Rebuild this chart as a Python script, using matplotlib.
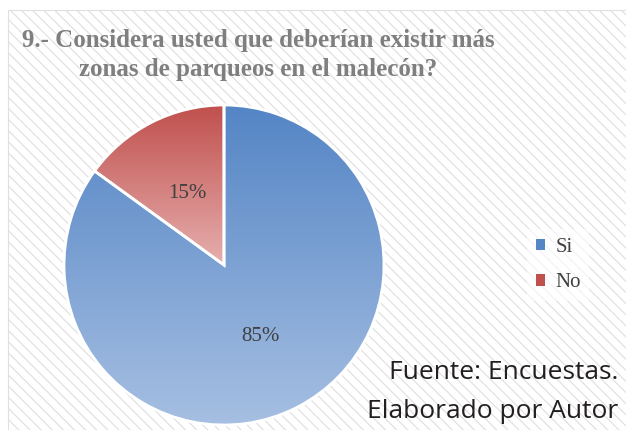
import numpy as np
import matplotlib
matplotlib.use("Agg")
import matplotlib.pyplot as plt
from matplotlib.patches import Rectangle, Patch
from matplotlib.colors import LinearSegmentedColormap

labels = ["Si", "No"]
values = [85, 15]
top_colors = ["#5485C5", "#C0504D"]
bottom_colors = ["#A6BFE2", "#E6AFAE"]

title_lines = ["9.- Considera usted que deberían existir más",
               "zonas de parqueos en el malecón?"]
source_lines = ["Fuente: Encuestas.", "Elaborado por Autor"]

W, H = 626, 430
serif = "Liberation Serif"

fig = plt.figure(figsize=(W / 100, H / 100), dpi=100)
fig.patch.set_facecolor("white")

# hatched chart area
plt.rcParams["hatch.linewidth"] = 0.85
bg = Rectangle((8 / W, 0), 1, 1 - 10 / H, transform=fig.transFigure,
               facecolor="white", edgecolor="#E0E0E0", hatch="\\\\\\",
               lw=0.8, zorder=-10)
fig.patches.append(bg)

lim = 1.05
r_px = 160
cx, cy = 224, 265
ax = fig.add_axes([(cx - r_px * lim) / W, (H - cy - r_px * lim) / H,
                   2 * r_px * lim / W, 2 * r_px * lim / H])

wedges, texts, autotexts = ax.pie(
    values, startangle=90, counterclock=False, autopct="%1.0f%%",
    pctdistance=0.5, wedgeprops=dict(edgecolor="white", linewidth=2),
    textprops=dict(family=serif, fontsize=15, color="#404040"))

# vertical gradient inside every slice
grad = np.linspace(0, 1, 256).reshape(-1, 1)
for w, c_top, c_bot in zip(wedges, top_colors, bottom_colors):
    w.set_facecolor("none")
    ext = w.get_path().get_extents()
    cmap = LinearSegmentedColormap.from_list("g", [c_bot, c_top])
    im = ax.imshow(grad, cmap=cmap, origin="lower", aspect="auto",
                   extent=[ext.x0, ext.x1, ext.y0, ext.y1],
                   interpolation="bicubic", zorder=0.5)
    im.set_clip_path(w)

ax.set_aspect("equal")
ax.set_xlim(-lim, lim)
ax.set_ylim(-lim, lim)
ax.axis("off")

for i, line in enumerate(title_lines):
    fig.text(258 / W, 1 - (47 + 29 * i) / H, line, ha="center", va="baseline",
             family=serif, fontsize=18, fontweight="bold", color="#7F7F7F")

handles = [Patch(facecolor=c, edgecolor="none") for c in top_colors]
fig.legend(handles, labels, loc="center left",
           bbox_to_anchor=(517 / W, 1 - 265 / H),
           prop=dict(family=serif, size=15), labelcolor="#404040",
           handlelength=0.45, handleheight=0.45, handletextpad=0.5,
           labelspacing=0.8, frameon=True, facecolor="white",
           edgecolor="none", framealpha=0.6, fancybox=False)

for i, line in enumerate(source_lines):
    fig.text(618 / W, 1 - (379 + 39 * i) / H, line, ha="right", va="baseline",
             family="Open Sans", fontsize=19, color="#231F20")

fig.savefig("out.png", dpi=100)
